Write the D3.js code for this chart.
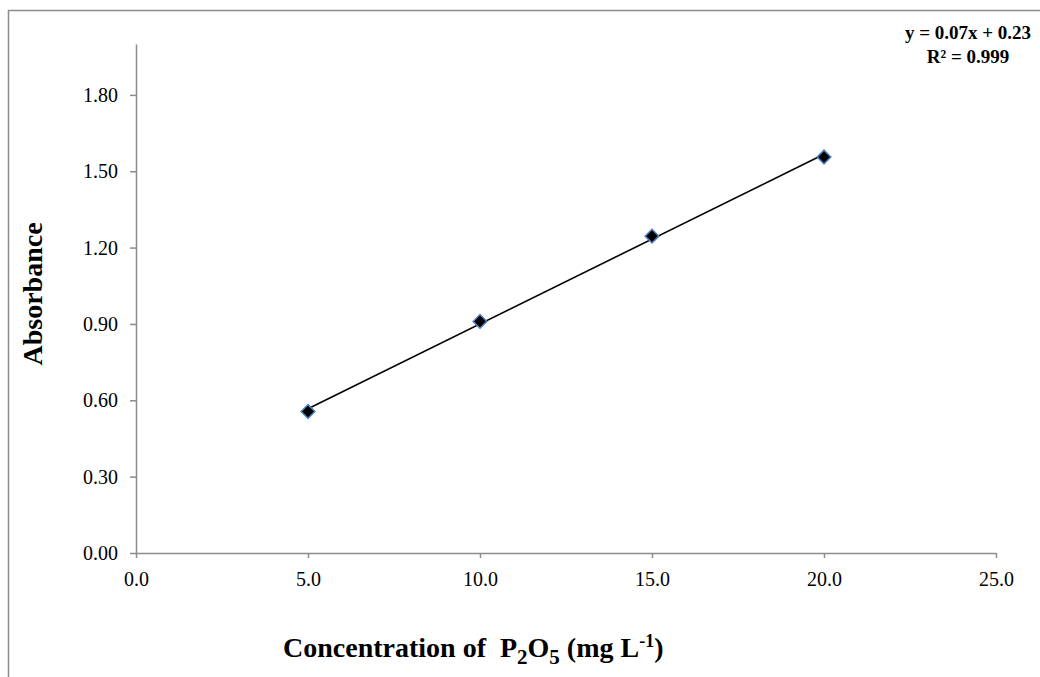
<!DOCTYPE html>
<html lang="en">
<head>
<meta charset="UTF-8">
<title>Absorbance calibration</title>
<script src="https://d3js.org/d3.v7.min.js"></script>
<style>
    body { margin: 0; padding: 0; background: #fff; }
    svg { font-family: "Liberation Serif", "Times New Roman", serif; }
    .tick text { font-family: "Liberation Serif", "Times New Roman", serif; font-size: 20px; fill: #000; }
    .axis path, .axis line { stroke: #8c8c8c; stroke-width: 1.5px; }
</style>
</head>
<body>
<svg width="1040" height="677"></svg>
<script>
    const concentration = [5, 10, 15, 20];
    const absorbance = [0.556, 0.910, 1.245, 1.556];
    const xTicks = [0, 5, 10, 15, 20, 25];
    const yTicks = [0, 0.3, 0.6, 0.9, 1.2, 1.5, 1.8];
    const equationText = ["y = 0.07x + 0.23", "R² = 0.999"];

    const svg = d3.select("svg");

    // outer chart frame (right / bottom edges fall outside the view)
    svg.append("path")
        .attr("d", "M8.5,677 V10.5 H1040")
        .attr("fill", "none")
        .attr("stroke", "#8c8c8c")
        .attr("stroke-width", 1.5);

    const x = d3.scaleLinear().domain([0, 25]).range([136, 996]);
    const y = d3.scaleLinear().domain([0, 2.0]).range([553, 44]);

    svg.append("g").attr("class", "axis")
        .attr("transform", "translate(0,553)")
        .call(d3.axisBottom(x).tickValues(xTicks).tickSize(5).tickSizeOuter(0)
            .tickFormat(d3.format(".1f")))
        .call(g => g.selectAll(".tick text").attr("y", 33).attr("dy", 0));

    svg.append("g").attr("class", "axis")
        .attr("transform", "translate(136,0)")
        .call(d3.axisLeft(y).tickValues(yTicks).tickSize(6).tickSizeOuter(0)
            .tickFormat(d3.format(".2f")))
        .call(g => g.selectAll(".tick text").attr("x", -18));

    // least squares trendline
    const mx = d3.mean(concentration), my = d3.mean(absorbance);
    const slope = d3.sum(concentration, (c, i) => (c - mx) * (absorbance[i] - my)) /
        d3.sum(concentration, c => (c - mx) * (c - mx));
    const icpt = my - slope * mx;
    const [x0, x1] = d3.extent(concentration);
    svg.append("line")
        .attr("x1", x(x0)).attr("y1", y(slope * x0 + icpt))
        .attr("x2", x(x1)).attr("y2", y(slope * x1 + icpt))
        .attr("stroke", "#000").attr("stroke-width", 1.6);

    svg.append("g").selectAll("path")
        .data(concentration)
        .join("path")
        .attr("d", d3.symbol(d3.symbolDiamond2, 120))
        .attr("transform", (c, i) => `translate(${x(c)},${y(absorbance[i])})`)
        .attr("fill", "#000")
        .attr("stroke", "#4f81bd")
        .attr("stroke-width", 1.5);

    svg.append("g").selectAll("text")
        .data(equationText)
        .join("text")
        .attr("x", 968)
        .attr("y", (d, i) => 39 + i * 24)
        .attr("text-anchor", "middle")
        .attr("font-size", 19)
        .attr("font-weight", "bold")
        .text(d => d);

    svg.append("text")
        .attr("transform", "translate(42,294) rotate(-90)")
        .attr("text-anchor", "middle")
        .attr("font-size", 28)
        .attr("font-weight", "bold")
        .text("Absorbance");

    const xTitle = svg.append("text")
        .attr("x", 283).attr("y", 657)
        .attr("font-size", 28)
        .attr("font-weight", "bold");
    xTitle.append("tspan").text("Concentration of\u00a0\u00a0P");
    xTitle.append("tspan").attr("dy", 7).attr("font-size", 21).text("2");
    xTitle.append("tspan").attr("dy", -7).text("O");
    xTitle.append("tspan").attr("dy", 7).attr("font-size", 21).text("5");
    xTitle.append("tspan").attr("dy", -7).text("\u00a0(mg L");
    xTitle.append("tspan").attr("dy", -10).attr("font-size", 18).text("-1");
    xTitle.append("tspan").attr("dy", 10).text(")");
</script>
</body>
</html>
